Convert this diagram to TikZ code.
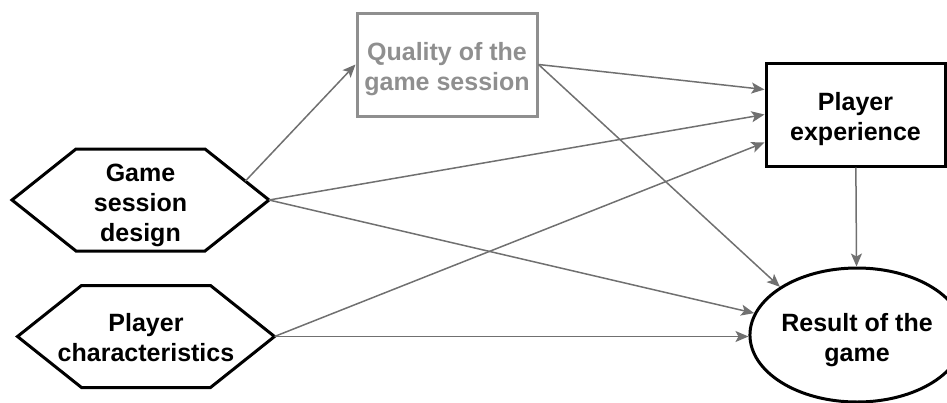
\documentclass[tikz,border=0pt]{standalone}
\usepackage{fontspec}
\setmainfont{Liberation Sans}
\usetikzlibrary{arrows.meta,calc,shapes.geometric}
\definecolor{linkgray}{HTML}{707070}
\definecolor{fadegray}{HTML}{8F8F8F}
\newcommand{\hexframe}[1]{%
  \draw[line width=3pt] (#1.west) -- ([xshift=64pt]#1.north west)
    -- ([xshift=-64pt]#1.north east) -- (#1.east)
    -- ([xshift=-64pt]#1.south east) -- ([xshift=64pt]#1.south west) -- cycle;}
\newcommand{\textdrop}[1][28pt]{\rule{0pt}{#1}}

\begin{document}
\begin{tikzpicture}[x=1pt, y=-1pt,
    label/.style={font=\bfseries\fontsize{25}{30}\selectfont, align=center},
    hexnode/.style={label, minimum width=257pt, minimum height=102pt, inner sep=0pt, outer sep=0pt},
    link/.style={draw=linkgray, line width=1.5pt, -{Stealth[length=13pt,width=11pt,inset=3pt]}}]
    \useasboundingbox (0,0) rectangle (947,402);
    \node[hexnode] (design) at (140.5,200) {\textdrop Game\\session\\design};
    \node[hexnode] (chars) at (146,336.5) {\textdrop[21pt]Player\\characteristics};
    \hexframe{design}
    \hexframe{chars}
    \node[label, draw=fadegray, text=fadegray, line width=3pt, minimum width=180pt,
          minimum height=103pt] (quality) at (447,64.5) {\textdrop Quality of the\\game session};
    \node[label, draw, line width=3pt, minimum width=179pt,
          minimum height=103pt] (experience) at (855.5,114.5) {\textdrop Player\\experience};
    \node[label, draw, ellipse, line width=3pt, minimum width=206pt,
          minimum height=134pt, inner sep=0pt] (result) at (857,335) {\textdrop Result of the\\game};
    \coordinate (designedge) at ($(design.east)!0.37!([xshift=-64pt]design.north east)$);
    \draw[link] (designedge) -- (quality.west);
    \draw[link] (quality.east) -- ([yshift=25pt]experience.west);
    \draw[link] (design.east) -- (experience.west);
    \draw[link] (chars.east) -- ([yshift=-28pt]experience.west);
    \draw[link] (quality.east) -- (result.148);
    \draw[link] (design.east) -- (result.168);
    \draw[link] (chars.east) -- (chars.east -| result.west);
    \draw[link] (experience) -- (result);
  \end{tikzpicture}
\end{document}
